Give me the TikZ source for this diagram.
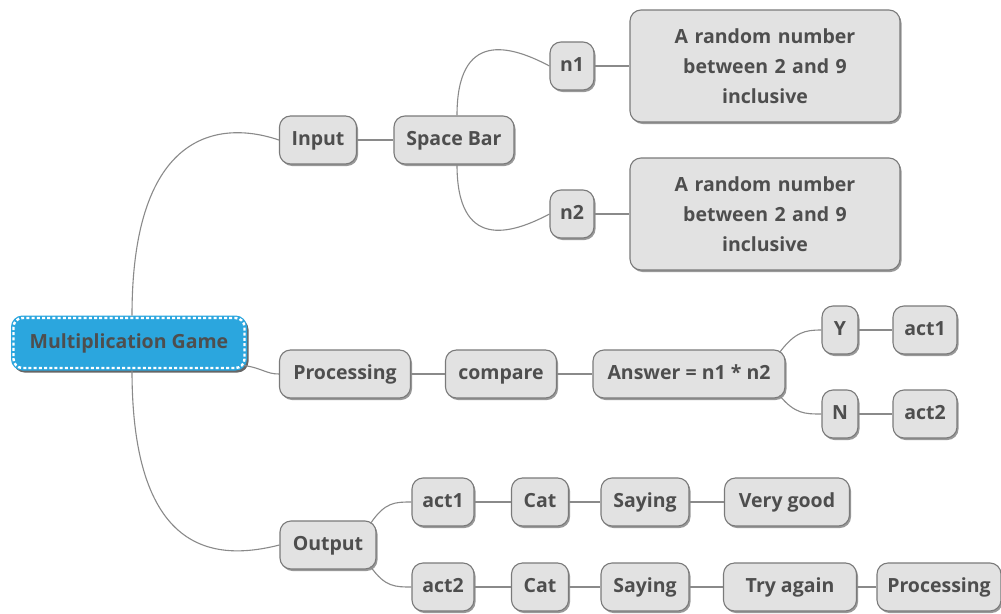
\documentclass[tikz,border=0pt]{standalone}
\usepackage{fontspec}
\setmainfont{Open Sans}
\usetikzlibrary{shadows,calc}
\definecolor{boxfill}{HTML}{E2E2E2}
\definecolor{boxline}{HTML}{7A7A7A}
\definecolor{txt}{HTML}{4E4E4E}
\definecolor{conn}{HTML}{8A8A8A}
\definecolor{rootblue}{HTML}{2BA6DE}
\tikzset{
  boxbase/.style={draw=boxline, fill=boxfill, rounded corners=11pt, line width=1.1pt,
    inner xsep=4pt, inner ysep=4pt, text=txt, align=center,
    font=\fontsize{19.5}{30}\selectfont\bfseries,
    drop shadow={shadow xshift=1.5pt, shadow yshift=-2pt, opacity=0.4, fill=black}},
  box/.style={boxbase, minimum height=48pt, text height=14pt, text depth=4pt},
  bigbox/.style={boxbase, minimum width=270pt, minimum height=112pt, text width=250pt},
  rootbox/.style={fill=rootblue, draw=rootblue, rounded corners=11pt, line width=1pt,
    minimum width=235pt, minimum height=54pt, text=txt, text height=14pt, text depth=4pt,
    font=\fontsize{19.5}{22}\selectfont\bfseries,
    drop shadow={shadow xshift=2pt, shadow yshift=-2.5pt, opacity=0.6, fill=black}},
  link/.style={draw=conn, line width=1.1pt},
}
\begin{document}
\begin{tikzpicture}[x=1pt,y=-1pt]
\useasboundingbox[fill=white] (0,0) rectangle (1001,613);
% root
\node[rootbox] (root) at (129,343) {Multiplication Game};
\draw[white, line width=2.4pt, dash pattern=on 3pt off 2.2pt, rounded corners=9pt]
  ([shift={(2.5pt,-2.5pt)}]root.north west) rectangle ([shift={(-2.5pt,2.5pt)}]root.south east);
% input branch
\node[box, minimum width=77pt] (inp) at (318,140) {Input};
\node[box, minimum width=120pt] (sb) at (454,140) {Space Bar};
\node[box, minimum width=44pt] (n1) at (572,66) {n1};
\node[box, minimum width=44pt] (n2) at (572,214) {n2};
\node[bigbox] (r1) at (765,66) {A random number\\between 2 and 9\\inclusive};
\node[bigbox] (r2) at (765,214) {A random number\\between 2 and 9\\inclusive};
% processing branch
\node[box, minimum width=131pt] (proc) at (345,374) {Processing};
\node[box, minimum width=111pt] (cmp) at (501,374) {compare};
\node[box, minimum width=192pt] (ans) at (689,374) {Answer = n1 * n2};
\node[box, minimum width=36pt] (y) at (840,330) {Y};
\node[box, minimum width=64pt] (ya) at (925,330) {act1};
\node[box, minimum width=36pt] (n) at (840,414) {N};
\node[box, minimum width=64pt] (na) at (925,414) {act2};
% output branch
\node[box, minimum width=96pt] (out) at (328,545) {Output};
\node[box, minimum width=62pt] (oa1) at (443,502) {act1};
\node[box, minimum width=57pt] (c1) at (540,502) {Cat};
\node[box, minimum width=88pt] (s1) at (645,502) {Saying};
\node[box, minimum width=125pt] (vg) at (787,502) {Very good};
\node[box, minimum width=62pt] (oa2) at (443,587) {act2};
\node[box, minimum width=57pt] (c2) at (540,587) {Cat};
\node[box, minimum width=88pt] (s2) at (645,587) {Saying};
\node[box, minimum width=133pt] (ta) at (790,587) {Try again};
\node[box, minimum width=124pt] (pr2) at (939,587) {Processing};
% connectors
\coordinate (rt) at ($(root.north)+(3,0)$);
\coordinate (rb) at ($(root.south)+(3,0)$);
\coordinate (rr) at ($(root.south east)+(-3,-5)$);
\draw[link] (rt) .. controls (132,130) and (220,120) .. (inp.west);
\draw[link] (rb) .. controls (132,560) and (220,560) .. (out.west);
\draw[link] (rr) .. controls (262,368) and (266,374) .. (proc.west);
\draw[link] (inp) -- (sb);
\coordinate (sbt) at ($(sb.north)+(3,0)$);
\coordinate (sbb) at ($(sb.south)+(3,0)$);
\draw[link] (sbt) .. controls (457,30) and (510,45) .. (n1.west);
\draw[link] (sbb) .. controls (457,250) and (510,235) .. (n2.west);
\draw[link] (n1) -- (r1);
\draw[link] (n2) -- (r2);
\draw[link] (proc) -- (cmp);
\draw[link] (cmp) -- (ans);
\coordinate (at) at ($(ans.north east)+(-6,3)$);
\coordinate (ab) at ($(ans.south east)+(-6,-3)$);
\draw[link] (at) .. controls (795,332) and (805,330) .. (y.west);
\draw[link] (ab) .. controls (795,414) and (805,414) .. (n.west);
\draw[link] (y) -- (ya);
\draw[link] (n) -- (na);
\coordinate (ot) at ($(out.north east)+(-6,3)$);
\coordinate (ob) at ($(out.south east)+(-6,-3)$);
\draw[link] (ot) .. controls (385,502) and (395,502) .. (oa1.west);
\draw[link] (ob) .. controls (385,587) and (395,587) .. (oa2.west);
\draw[link] (oa1) -- (c1);
\draw[link] (c1) -- (s1);
\draw[link] (s1) -- (vg);
\draw[link] (oa2) -- (c2);
\draw[link] (c2) -- (s2);
\draw[link] (s2) -- (ta);
\draw[link] (ta) -- (pr2);
\end{tikzpicture}
\end{document}
